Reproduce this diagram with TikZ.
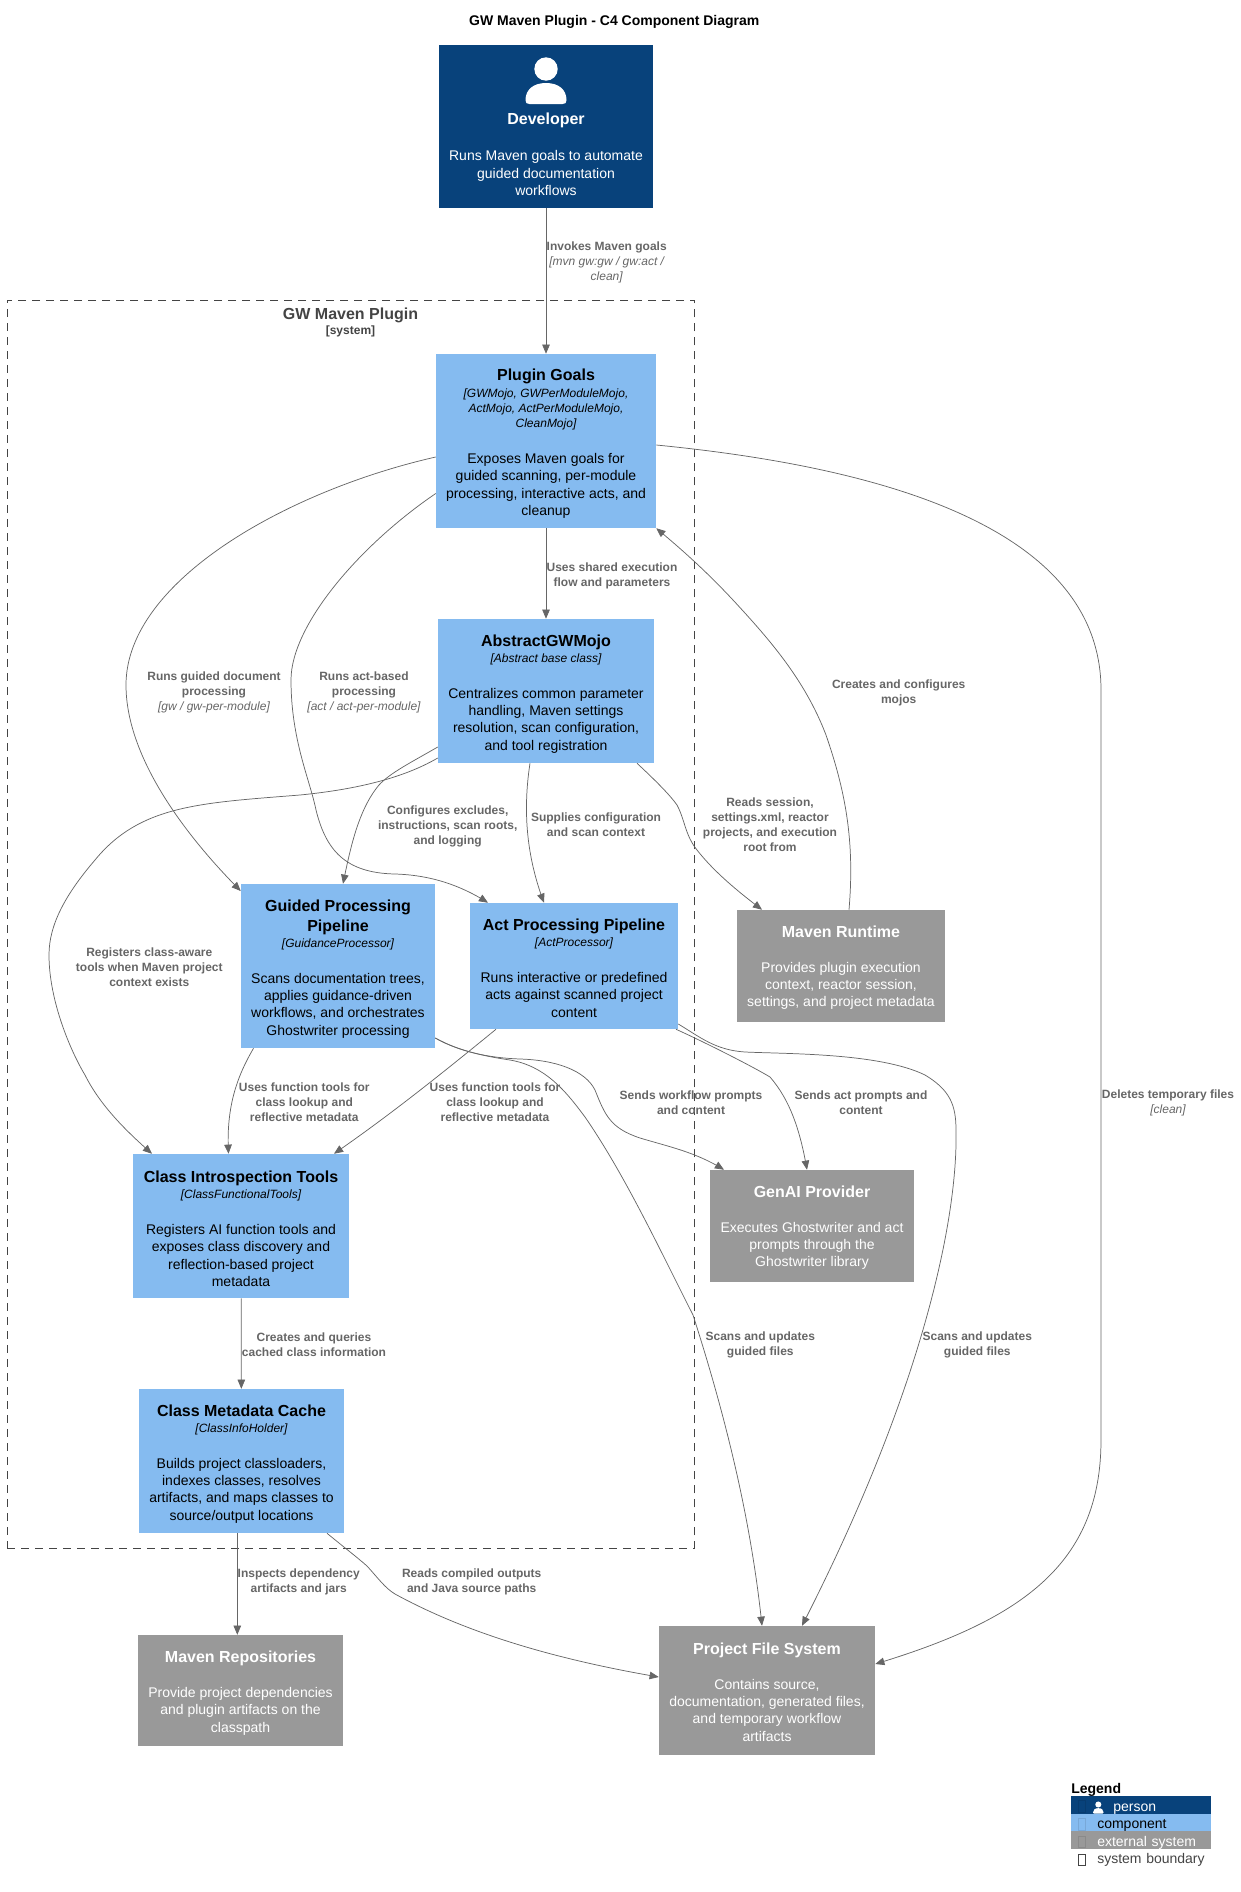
\documentclass[tikz,border=0pt]{standalone}
\usepackage{fontspec}
\setmainfont{Liberation Sans}
\usetikzlibrary{shapes,decorations,arrows}
\definecolor{personBlue}{HTML}{08427B}
\definecolor{personEdge}{HTML}{073B6F}
\definecolor{componentBlue}{HTML}{85BBF0}
\definecolor{componentEdge}{HTML}{78A8D8}
\definecolor{externalGrey}{HTML}{999999}
\definecolor{externalEdge}{HTML}{8A8A8A}
\definecolor{relationGrey}{HTML}{666666}
\definecolor{boundaryGrey}{HTML}{444444}
\newcommand{\nodeTitle}[1]{{\fontsize{12}{15}\selectfont\bfseries #1}}
\newcommand{\boxTitle}[2][12.8pt]{\rule{0pt}{#1}\nodeTitle{#2}}
\newcommand{\nodeTech}[1]{{\fontsize{9}{11.25}\selectfont\itshape #1}}
\newcommand{\edgeTech}[1]{{\normalfont\itshape #1}}
\tikzset{
  personIcon/.pic={
    \fill [white] (0,0) circle (11.7);
    \fill [white] (-20.5,31) .. controls (-20.5,21) and (-13,14) .. (0,14)
      .. controls (13,14) and (20.5,21) .. (20.5,31)
      .. controls (20.5,34) and (19.5,35) .. (16.5,35) -- (-16.5,35)
      .. controls (-19.5,35) and (-20.5,34) .. (-20.5,31) -- cycle;
  }
}
\begin{document}
\begin{tikzpicture}[x=0.75pt,y=-0.75pt,>=triangle 45,
    boxText/.style={rectangle,inner sep=0pt,align=center,font=\fontsize{10.5}{13}\selectfont},
    person/.style={boxText,fill=personBlue,text=white},
    component/.style={boxText,fill=componentBlue,text=black},
    external/.style={boxText,fill=externalGrey,text=white},
    boundaryBox/.style={rectangle,draw=boundaryGrey,line width=0.6pt,dash pattern=on 6pt off 4.5pt},
    relation/.style={draw=relationGrey,line width=0.55pt},
    edgeLabel/.style={inner sep=0pt,align=center,text=relationGrey,font=\fontsize{9}{11.25}\selectfont\bfseries},
    legendRow/.style={rectangle,anchor=west,inner sep=0pt,minimum width=105pt,minimum height=13.1pt,text width=105pt,
      text height=11.4pt,text depth=1.7pt,align=left,font=\fontsize{10.5}{13}\selectfont},
    legendMark/.style={rectangle,inner sep=0pt,minimum width=5.6pt,minimum height=8.6pt,line width=0.5pt}]
  \useasboundingbox (0,0) rectangle (1241,1892);
  \node [inner sep=0pt,font=\fontsize{10.5}{13}\selectfont\bfseries] (diagramTitle) at (614.3,21.7) {GW Maven Plugin - C4 Component Diagram};
  \node [boundaryBox,minimum width=515.6pt,minimum height=936pt] (pluginBoundary) at (351,924) {};
  \node [inner sep=0pt,align=center,text=boundaryGrey] (boundaryTitle) at (350.5,322.7) {\nodeTitle{GW Maven Plugin}\\[-1pt]{\fontsize{9}{11.25}\selectfont\bfseries [system]}};
  \node [person,minimum width=160.5pt,minimum height=122.25pt] (developer) at (546,126.5) {\rule{0pt}{50.5pt}\nodeTitle{Developer}\\[14.25pt]Runs Maven goals to automate\\guided documentation\\workflows};
  \node [component,minimum width=165pt,minimum height=130.5pt,below of=developer,node distance=235.875pt] (pluginGoals) {\boxTitle{Plugin Goals}\\[-0.7pt]\nodeTech{[GWMojo, GWPerModuleMojo,}\\[-1.5pt]\nodeTech{ActMojo, ActPerModuleMojo,}\\[-1.5pt]\nodeTech{CleanMojo]}\\[13.75pt]Exposes Maven goals for\\guided scanning, per-module\\processing, interactive acts, and\\cleanup};
  \node [component,minimum width=162pt,minimum height=108pt,below of=pluginGoals,node distance=187.5pt] (abstractMojo) {\boxTitle{AbstractGWMojo}\\[-0.7pt]\nodeTech{[Abstract base class]}\\[13.75pt]Centralizes common parameter\\handling, Maven settings\\resolution, scan configuration,\\and tool registration};
  \node [component,minimum width=145.5pt,minimum height=123pt,below of=abstractMojo,node distance=206.25pt,xshift=-156pt] (guidedPipeline) {\boxTitle{Guided Processing}\\[2pt]\nodeTitle{Pipeline}\\[-0.7pt]\nodeTech{[GuidanceProcessor]}\\[13.75pt]Scans documentation trees,\\applies guidance-driven\\workflows, and orchestrates\\Ghostwriter processing};
  \node [component,minimum width=156pt,minimum height=94.5pt,right of=guidedPipeline,node distance=177pt] (actPipeline) {\boxTitle[12pt]{Act Processing Pipeline}\\[-0.7pt]\nodeTech{[ActProcessor]}\\[13.75pt]Runs interactive or predefined\\acts against scanned project\\content};
  \node [external,minimum width=156pt,minimum height=84pt,right of=actPipeline,node distance=200.25pt] (mavenRuntime) {\boxTitle[11.3pt]{Maven Runtime}\\[13pt]Provides plugin execution\\context, reactor session,\\settings, and project metadata};
  \node [component,minimum width=162pt,minimum height=108pt,below of=guidedPipeline,node distance=195pt,xshift=-72.75pt] (classTools) {\boxTitle{Class Introspection Tools}\\[-0.7pt]\nodeTech{[ClassFunctionalTools]}\\[13.75pt]Registers AI function tools and\\exposes class discovery and\\reflection-based project\\metadata};
  \node [external,minimum width=153pt,minimum height=84pt,right of=classTools,node distance=428.25pt] (genAi) {\boxTitle[11.3pt]{GenAI Provider}\\[13pt]Executes Ghostwriter and act\\prompts through the\\Ghostwriter library};
  \node [component,minimum width=153.75pt,minimum height=108pt,below of=classTools,node distance=176.25pt,xshift=0.375pt] (metadataCache) {\boxTitle{Class Metadata Cache}\\[-0.7pt]\nodeTech{[ClassInfoHolder]}\\[13.75pt]Builds project classloaders,\\indexes classes, resolves\\artifacts, and maps classes to\\source/output locations};
  \node [external,minimum width=153.75pt,minimum height=83.25pt,below of=metadataCache,node distance=172.125pt,xshift=-0.75pt] (mavenRepos) {\boxTitle[12pt]{Maven Repositories}\\[13.5pt]Provide project dependencies\\and plugin artifacts on the\\classpath};
  \node [external,minimum width=162pt,minimum height=96.75pt,right of=mavenRepos,node distance=394.875pt] (projectFiles) {\boxTitle[11.3pt]{Project File System}\\[13pt]Contains source,\\documentation, generated files,\\and temporary workflow\\artifacts};
  \pic at (546,69) {personIcon};
  \draw [relation,->] (developer) -- (pluginGoals);
  \draw [relation,->] (pluginGoals) -- (abstractMojo);
  \draw [relation,->] (classTools) -- (metadataCache);
  \draw [relation,->] (metadataCache.south -| 237.3,0) -- (mavenRepos.north -| 237.3,0);
  \draw [relation,->] (pluginGoals.west |- 0,457) .. controls (290,490) and (126,580) .. (126,685)
    .. controls (126,760) and (190,840) .. (guidedPipeline.west |- 0,891);
  \draw [relation,->] (pluginGoals.west |- 0,493.5) .. controls (360,545) and (291,625) .. (291,680)
    .. controls (291,740) and (310,780) .. (316,810) .. controls (326,850) and (345,873) .. (395,874)
    .. controls (430,875) and (460,885) .. (actPipeline.north -| 488,0);
  \draw [relation,->] (abstractMojo.west |- 0,758) .. controls (400,780) and (350,790) .. (300,795)
    .. controls (200,803) and (140,805) .. (95,860) .. controls (65,895) and (49,925) .. (49,955)
    .. controls (49,1000) and (70,1050) .. (85,1075) .. controls (100,1105) and (125,1130) .. (classTools.north -| 152,0);
  \draw [relation,->] (abstractMojo.west |- 0,747) .. controls (410,763) and (390,773) .. (379,785)
    .. controls (358,810) and (350,850) .. (guidedPipeline.north -| 343,0);
  \draw [relation,->] (abstractMojo.south -| 530,0) .. controls (522,815) and (528,860) .. (actPipeline.north -| 544,0);
  \draw [relation,->] (abstractMojo.south -| 637,0) .. controls (655,780) and (670,795) .. (677,805)
    .. controls (685,820) and (685,835) .. (697,850) .. controls (715,873) and (740,893) .. (mavenRuntime.north -| 762,0);
  \draw [relation,->] (mavenRuntime.north -| 849,0) .. controls (855,840) and (845,790) .. (826,735)
    .. controls (805,680) and (770,640) .. (733,600) .. controls (705,570) and (680,548) .. (pluginGoals.south east);
  \draw [relation,->] (pluginGoals.east |- 0,445) .. controls (860,465) and (1101,520) .. (1101,690)
    -- (1101,1440) .. controls (1101,1565) and (1020,1620) .. (projectFiles.east |- 0,1664);
  \draw [relation,->] (guidedPipeline.south -| 253.5,0) .. controls (238,1075) and (226,1105) .. (classTools.north -| 228.5,0);
  \draw [relation,->] (actPipeline.south -| 496,0) .. controls (440,1075) and (390,1115) .. (classTools.north -| 334,0);
  \draw [relation,->] (guidedPipeline.east |- 0,1038) .. controls (460,1052) and (490,1057) .. (510,1060)
    .. controls (545,1066) and (565,1090) .. (585,1117) .. controls (625,1175) and (660,1250) .. (693,1315)
    .. controls (730,1430) and (752,1530) .. (projectFiles.north -| 762,0);
  \draw [relation,->] (guidedPipeline.east |- 0,1038) .. controls (460,1052) and (490,1058) .. (520,1059)
    .. controls (555,1060) and (585,1070) .. (595,1090) .. controls (605,1115) and (610,1128) .. (640,1138)
    .. controls (670,1147) and (695,1152) .. (genAi.north -| 724,0);
  \draw [relation,->] (actPipeline.south -| 676,0) .. controls (700,1040) and (750,1065) .. (770,1077)
    .. controls (790,1100) and (800,1130) .. (genAi.north -| 807,0);
  \draw [relation,->] (actPipeline.east |- 0,1024) .. controls (700,1037) and (715,1050) .. (745,1052)
    .. controls (790,1054) and (880,1053) .. (925,1075) .. controls (950,1090) and (956,1105) .. (956,1130)
    .. controls (958,1215) and (925,1385) .. (projectFiles.north -| 802,0);
  \draw [relation,->] (metadataCache.south -| 327,0) .. controls (345,1548) and (358,1558) .. (367,1566)
    .. controls (378,1578) and (385,1588) .. (395,1594) .. controls (470,1635) and (560,1660) .. (projectFiles.west |- 0,1677);
  \node [edgeLabel] (labelInvokes) at (606.7,262.5) {Invokes Maven goals\\\edgeTech{[mvn gw:gw / gw:act /}\\\edgeTech{clean]}};
  \node [edgeLabel] (labelShared) at (612,575.9) {Uses shared execution\\flow and parameters};
  \node [edgeLabel] (labelGuidedRun) at (214,692.8) {Runs guided document\\processing\\\edgeTech{[gw / gw-per-module]}};
  \node [edgeLabel] (labelActRun) at (364,692.8) {Runs act-based\\processing\\\edgeTech{[act / act-per-module]}};
  \node [edgeLabel] (labelConfigures) at (447.7,826.5) {Configures excludes,\\instructions, scan roots,\\and logging};
  \node [edgeLabel] (labelSupplies) at (596,825) {Supplies configuration\\and scan context};
  \node [edgeLabel] (labelReads) at (770,825) {Reads session,\\settings.xml, reactor\\projects, and execution\\root from};
  \node [edgeLabel] (labelCreatesMojos) at (898.7,693) {Creates and configures\\mojos};
  \node [edgeLabel] (labelRegisters) at (149.3,967.5) {Registers class-aware\\tools when Maven project\\context exists};
  \node [edgeLabel] (labelToolsGuided) at (304.3,1102.5) {Uses function tools for\\class lookup and\\reflective metadata};
  \node [edgeLabel] (labelToolsAct) at (495,1102.5) {Uses function tools for\\class lookup and\\reflective metadata};
  \node [edgeLabel] (labelWorkflow) at (691,1102.5) {Sends workflow prompts\\and content};
  \node [edgeLabel] (labelActPrompts) at (861,1102.5) {Sends act prompts and\\content};
  \node [edgeLabel] (labelDeletes) at (1168,1103) {Deletes temporary files\\\edgeTech{[clean]}};
  \node [edgeLabel] (labelQueries) at (314,1344.7) {Creates and queries\\cached class information};
  \node [edgeLabel] (labelScansGuided) at (760.3,1345.2) {Scans and updates\\guided files};
  \node [edgeLabel] (labelScansAct) at (977.3,1345.2) {Scans and updates\\guided files};
  \node [edgeLabel] (labelInspects) at (298.7,1581.7) {Inspects dependency\\artifacts and jars};
  \node [edgeLabel] (labelCompiled) at (471.7,1581.7) {Reads compiled outputs\\and Java source paths};
  \node [anchor=west,inner sep=0pt,font=\fontsize{10.5}{13}\selectfont\bfseries] (legendTitle) at (1071,1789.7) {Legend};
  \node [legendRow,fill=personBlue,text=white] (legendPerson) at (1071,1805) {\hspace{31.5pt}person};
  \node [legendRow,fill=componentBlue,text=black] (legendComponent) at (1071,1822.5) {\hspace{19.5pt}component};
  \node [legendRow,fill=externalGrey,text=white] (legendExternal) at (1071,1840) {\hspace{19.5pt}external system};
  \node [legendRow,text=boundaryGrey] (legendBoundary) at (1071,1857.5) {\hspace{19.5pt}system boundary};
  \node [legendMark,draw=personEdge] (markPerson) at (1082,1806.5) {};
  \node [legendMark,draw=componentEdge] (markComponent) at (1082,1824.4) {};
  \node [legendMark,draw=externalEdge] (markExternal) at (1082,1842) {};
  \node [legendMark,draw=boundaryGrey] (markBoundary) at (1082,1860) {};
  \pic [scale=0.26] at (1098.3,1804.5) {personIcon};
\end{tikzpicture}
\end{document}
